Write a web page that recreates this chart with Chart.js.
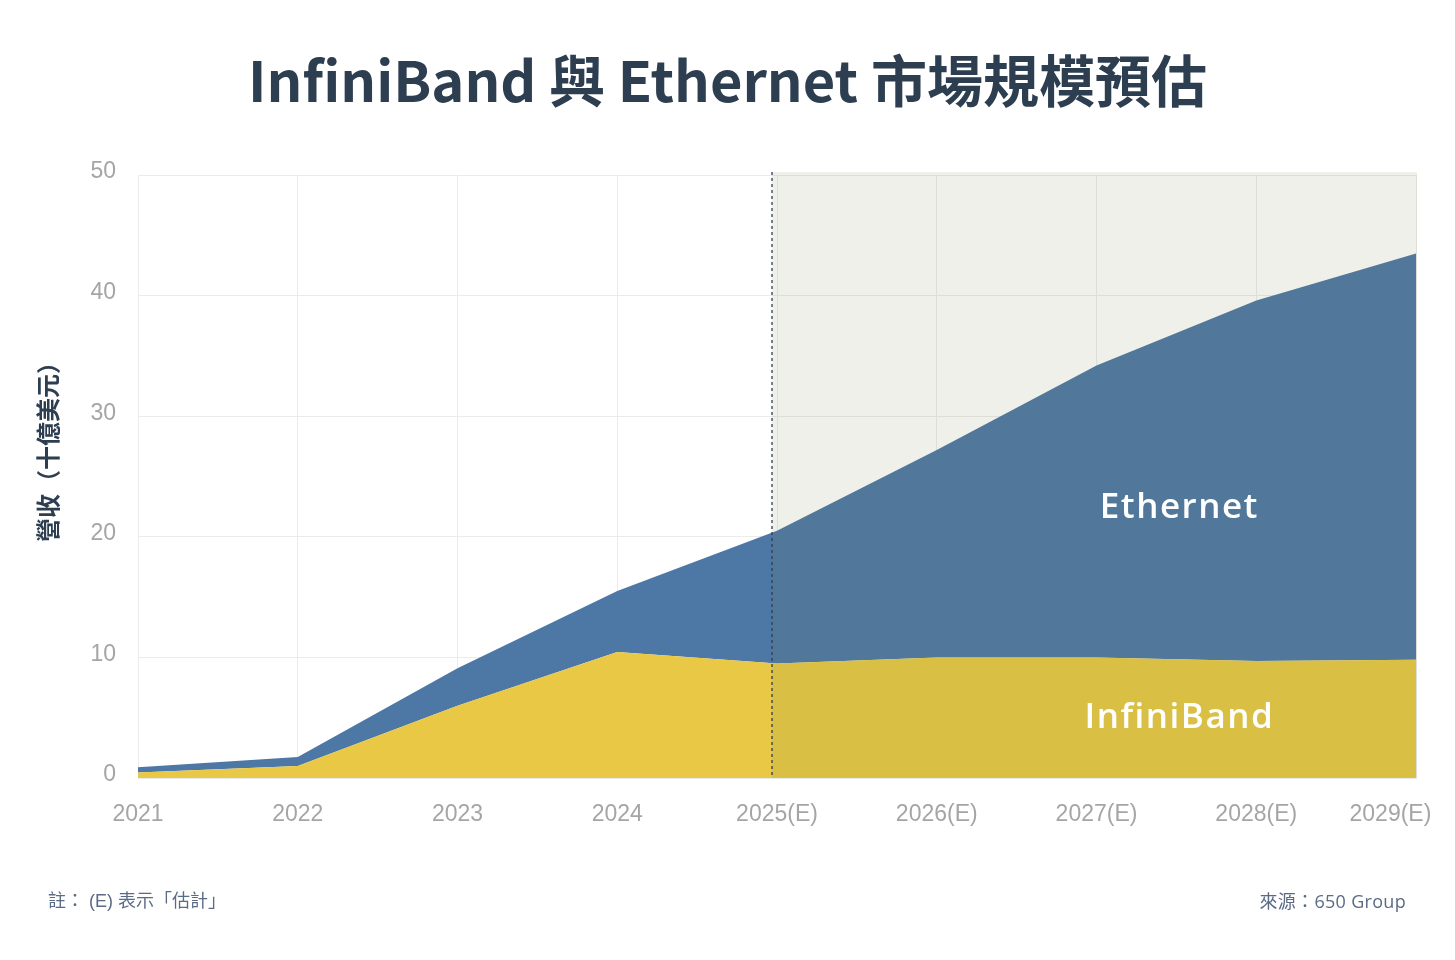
<!DOCTYPE html>
<html lang="zh-Hant">
<head>
<meta charset="utf-8">
<title>InfiniBand 與 Ethernet 市場規模預估</title>
<script src="https://cdn.jsdelivr.net/npm/chart.js@4.4.1/dist/chart.umd.min.js"></script>
<style>
  html, body { margin: 0; padding: 0; background: #ffffff; }
  .wrap { position: relative; width: 1455px; height: 960px; }
  h1 {
    position: absolute; left: 0; right: 0; top: 40px; margin: 0;
    text-align: center; font-family: "Noto Sans CJK TC", "Noto Sans", sans-serif;
    font-weight: 700; font-size: 56px; line-height: 76px; color: #2d3e50;
  }
  .note {
    position: absolute; top: 889px; font-family: "Open Sans", "Noto Sans CJK TC", sans-serif;
    font-size: 18px; line-height: 24px; color: #5b6b86;
  }
  .note.left { left: 48px; font-family: "Liberation Sans", "Noto Sans CJK TC", sans-serif; }
  .note.right { right: 49px; letter-spacing: 0.3px; }
  canvas { position: absolute; left: 0; top: 0; }
</style>
</head>
<body>
<div class="wrap">
  <canvas id="chart" width="1455" height="960"></canvas>
  <h1>InfiniBand 與 Ethernet 市場規模預估</h1>
  <div class="note left">註： (E) 表示「估計」</div>
  <div class="note right">來源：650 Group</div>
</div>
<script>
// values in billions of USD
const years = ["2021", "2022", "2023", "2024", "2025(E)", "2026(E)", "2027(E)", "2028(E)", "2029(E)"];
const infinibandRevenue = [0.45, 1.0, 6.0, 10.45, 9.5, 10.0, 10.0, 9.7, 9.8];
const ethernetRevenue = [0.45, 0.75, 3.1, 5.05, 11.0, 17.2, 24.2, 29.9, 33.7];
const seriesNames = ["InfiniBand", "Ethernet"];
const yAxisTitle = "營收（十億美元）";
const firstEstimateYear = "2025(E)";

const tickFont = { family: "'Liberation Sans', Arial, sans-serif", size: 23 };
const tickColor = "#a5a5a5";
const gridColor = "#ebebeb";

// shading for the forecast years, dashed divider, in-area labels and the axis title
const forecastPlugin = {
  id: "forecast",
  afterDatasetsDraw(chart) {
    const { ctx, chartArea, scales } = chart;
    const x0 = scales.x.getPixelForValue(years.indexOf(firstEstimateYear)) - 5;
    const top = chartArea.top - 3;

    ctx.save();
    ctx.fillStyle = "rgba(116, 132, 75, 0.12)";
    ctx.fillRect(x0, top, chartArea.right - x0 + 1, chartArea.bottom - top);

    ctx.strokeStyle = "#2d3e50";
    ctx.lineWidth = 1.3;
    ctx.setLineDash([3, 3]);
    ctx.beginPath();
    ctx.moveTo(x0, top);
    ctx.lineTo(x0, chartArea.bottom);
    ctx.stroke();
    ctx.setLineDash([]);

    // series names inside the areas
    ctx.fillStyle = "#ffffff";
    ctx.font = "600 35px 'Open Sans', sans-serif";
    ctx.letterSpacing = "1.5px";
    ctx.textAlign = "center";
    ctx.textBaseline = "middle";
    const lx = (scales.x.getPixelForValue(6) + scales.x.getPixelForValue(7)) / 2 + 3;
    ctx.fillText(seriesNames[1], lx, scales.y.getPixelForValue(22.4));
    ctx.fillText(seriesNames[0], lx, scales.y.getPixelForValue(5.0));
    ctx.restore();
  },
  afterDraw(chart) {
    const { ctx } = chart;
    ctx.save();
    ctx.translate(48, 446);
    ctx.rotate(-Math.PI / 2);
    ctx.fillStyle = "#2d3e50";
    ctx.font = "700 24px 'Noto Sans CJK TC', sans-serif";
    ctx.textAlign = "center";
    ctx.textBaseline = "middle";
    ctx.fillText(yAxisTitle, 0, 0);
    ctx.restore();
  }
};

new Chart(document.getElementById("chart"), {
  type: "line",
  data: {
    labels: years,
    datasets: [
      {
        label: seriesNames[0],
        data: infinibandRevenue,
        backgroundColor: "#e9c845",
        borderWidth: 0,
        fill: "origin",
        pointRadius: 0,
        tension: 0
      },
      {
        label: seriesNames[1],
        data: ethernetRevenue,
        backgroundColor: "#4d77a5",
        borderWidth: 0,
        fill: "-1",
        pointRadius: 0,
        tension: 0
      }
    ]
  },
  options: {
    responsive: false,
    animation: false,
    layout: { padding: { top: 175, right: 39, bottom: 0, left: 0 } },
    plugins: {
      legend: { display: false },
      tooltip: { enabled: false },
      title: { display: false }
    },
    scales: {
      x: {
        offset: false,
        afterFit(scale) {
          scale.height = 182;
          scale.paddingLeft = 0;
          scale.paddingRight = 0;
        },
        grid: { color: gridColor, drawTicks: false },
        border: { color: gridColor },
        ticks: {
          font: tickFont, color: tickColor, padding: 23, maxRotation: 0, autoSkip: false,
          // keep the last label inside the canvas (trailing spaces push the centred text left)
          callback(value, index) {
            const label = this.getLabelForValue(value);
            return index === years.length - 1 ? label + "        " : label;
          }
        }
      },
      y: {
        stacked: true,
        min: 0,
        max: 50,
        afterFit(scale) {
          scale.width = 138;
          scale.paddingTop = 0;
          scale.paddingBottom = 0;
        },
        grid: { color: gridColor, drawTicks: false },
        border: { color: gridColor },
        ticks: { stepSize: 10, font: tickFont, color: tickColor, padding: 22, labelOffset: -3 }
      }
    }
  },
  plugins: [forecastPlugin]
});
</script>
</body>
</html>
